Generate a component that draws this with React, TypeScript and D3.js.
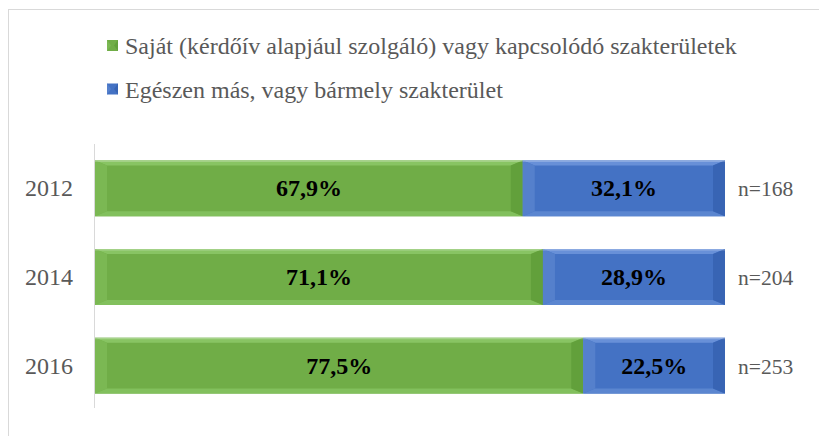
import React from "react";
import * as d3 from "d3";

const categories = ["2012", "2014", "2016"];
const ownField = [67.9, 71.1, 77.5];
const otherField = [32.1, 28.9, 22.5];
const sampleSizes = ["n=168", "n=204", "n=253"];
const seriesNames = [
  "Saját (kérdőív alapjául szolgáló) vagy kapcsolódó szakterületek",
  "Egészen más, vagy bármely szakterület",
];

const W = 819;
const H = 436;
const FONT = "Liberation Serif, Times New Roman, serif";

const palettes = [
  { base: "#70AD47", top: "#88C463", left: "#7BB853", bottom: "#82C05D", right: "#62A03B" },
  { base: "#4472C4", top: "#6890D8", left: "#5580CC", bottom: "#5B86D0", right: "#3864B4" },
];

function Bevel({ x, y, w, h, p }: { x: number; y: number; w: number; h: number; p: any }) {
  const bx = Math.min(12, w / 3);
  const by = 5;
  const x2 = x + w;
  const y2 = y + h;
  return (
    <g>
      <rect x={x} y={y} width={w} height={h} fill={p.base} />
      <polygon points={`${x},${y} ${x2},${y} ${x2 - bx},${y + by} ${x + bx},${y + by}`} fill={p.top} />
      <polygon points={`${x},${y} ${x + bx},${y + by} ${x + bx},${y2 - by} ${x},${y2}`} fill={p.left} />
      <polygon points={`${x},${y2} ${x + bx},${y2 - by} ${x2 - bx},${y2 - by} ${x2},${y2}`} fill={p.bottom} />
      <polygon points={`${x2},${y} ${x2},${y2} ${x2 - bx},${y2 - by} ${x2 - bx},${y + by}`} fill={p.right} />
      <rect x={x} y={y} width={w} height={1.5} fill="#ffffff" opacity={0.25} />
    </g>
  );
}

export default function App() {
  const x = d3.scaleLinear().domain([0, 100]).range([95, 725]);
  const y = d3.scaleBand().domain(categories).range([144, 410]).paddingInner(0.37).paddingOuter(0.185);
  const series = [ownField, otherField];
  const fmt = (v: number) => d3.format(".1f")(v).replace(".", ",") + "%";

  return (
    <svg width={W} height={H} style={{ position: "absolute", left: 0, top: 0 }}>
      <rect x={0} y={0} width={W} height={H} fill="#fff" />
      <rect x={8.5} y={9.5} width={W + 10} height={H + 10} fill="none" stroke="#D9D9D9" strokeWidth={1} />
      {seriesNames.map((name, i) => (
        <g key={name}>
          <rect x={107} y={40 + i * 43.5} width={11} height={11} fill={palettes[i].base} />
          <polygon
            points={`${107},${40 + i * 43.5} ${111},${45.5 + i * 43.5} ${107},${51 + i * 43.5}`}
            fill={palettes[i].left}
          />
          <polygon
            points={`${118},${40 + i * 43.5} ${114},${45.5 + i * 43.5} ${118},${51 + i * 43.5}`}
            fill={palettes[i].right}
          />
          <text x={125} y={54 + i * 43.5} style={{ fontFamily: FONT }} fontSize={24} fill="#595959">
            {name}
          </text>
        </g>
      ))}
      <line x1={94.5} x2={94.5} y1={144} y2={408} stroke="#D9D9D9" strokeWidth={1} />
      {categories.map((c, ci) => {
        const by = y(c)!;
        const bh = y.bandwidth();
        let acc = 0;
        return (
          <g key={c}>
            {series.map((s, si) => {
              const v = s[ci];
              const x0 = x(acc);
              const x1 = x(acc + v);
              acc += v;
              return (
                <g key={si}>
                  <Bevel x={x0} y={by} w={x1 - x0} h={bh} p={palettes[si]} />
                  <text
                    x={(x0 + x1) / 2}
                    y={by + bh / 2 + 8}
                    textAnchor="middle"
                    style={{ fontFamily: FONT }}
                    fontWeight="bold"
                    fontSize={24}
                    fill="#000"
                  >
                    {fmt(v)}
                  </text>
                </g>
              );
            })}
            <text x={73} y={by + bh / 2 + 8} textAnchor="end" style={{ fontFamily: FONT }} fontSize={24} fill="#595959">
              {c}
            </text>
            <text x={738} y={by + bh / 2 + 8} style={{ fontFamily: FONT }} fontSize={21.5} fill="#595959">
              {sampleSizes[ci]}
            </text>
          </g>
        );
      })}
    </svg>
  );
}
